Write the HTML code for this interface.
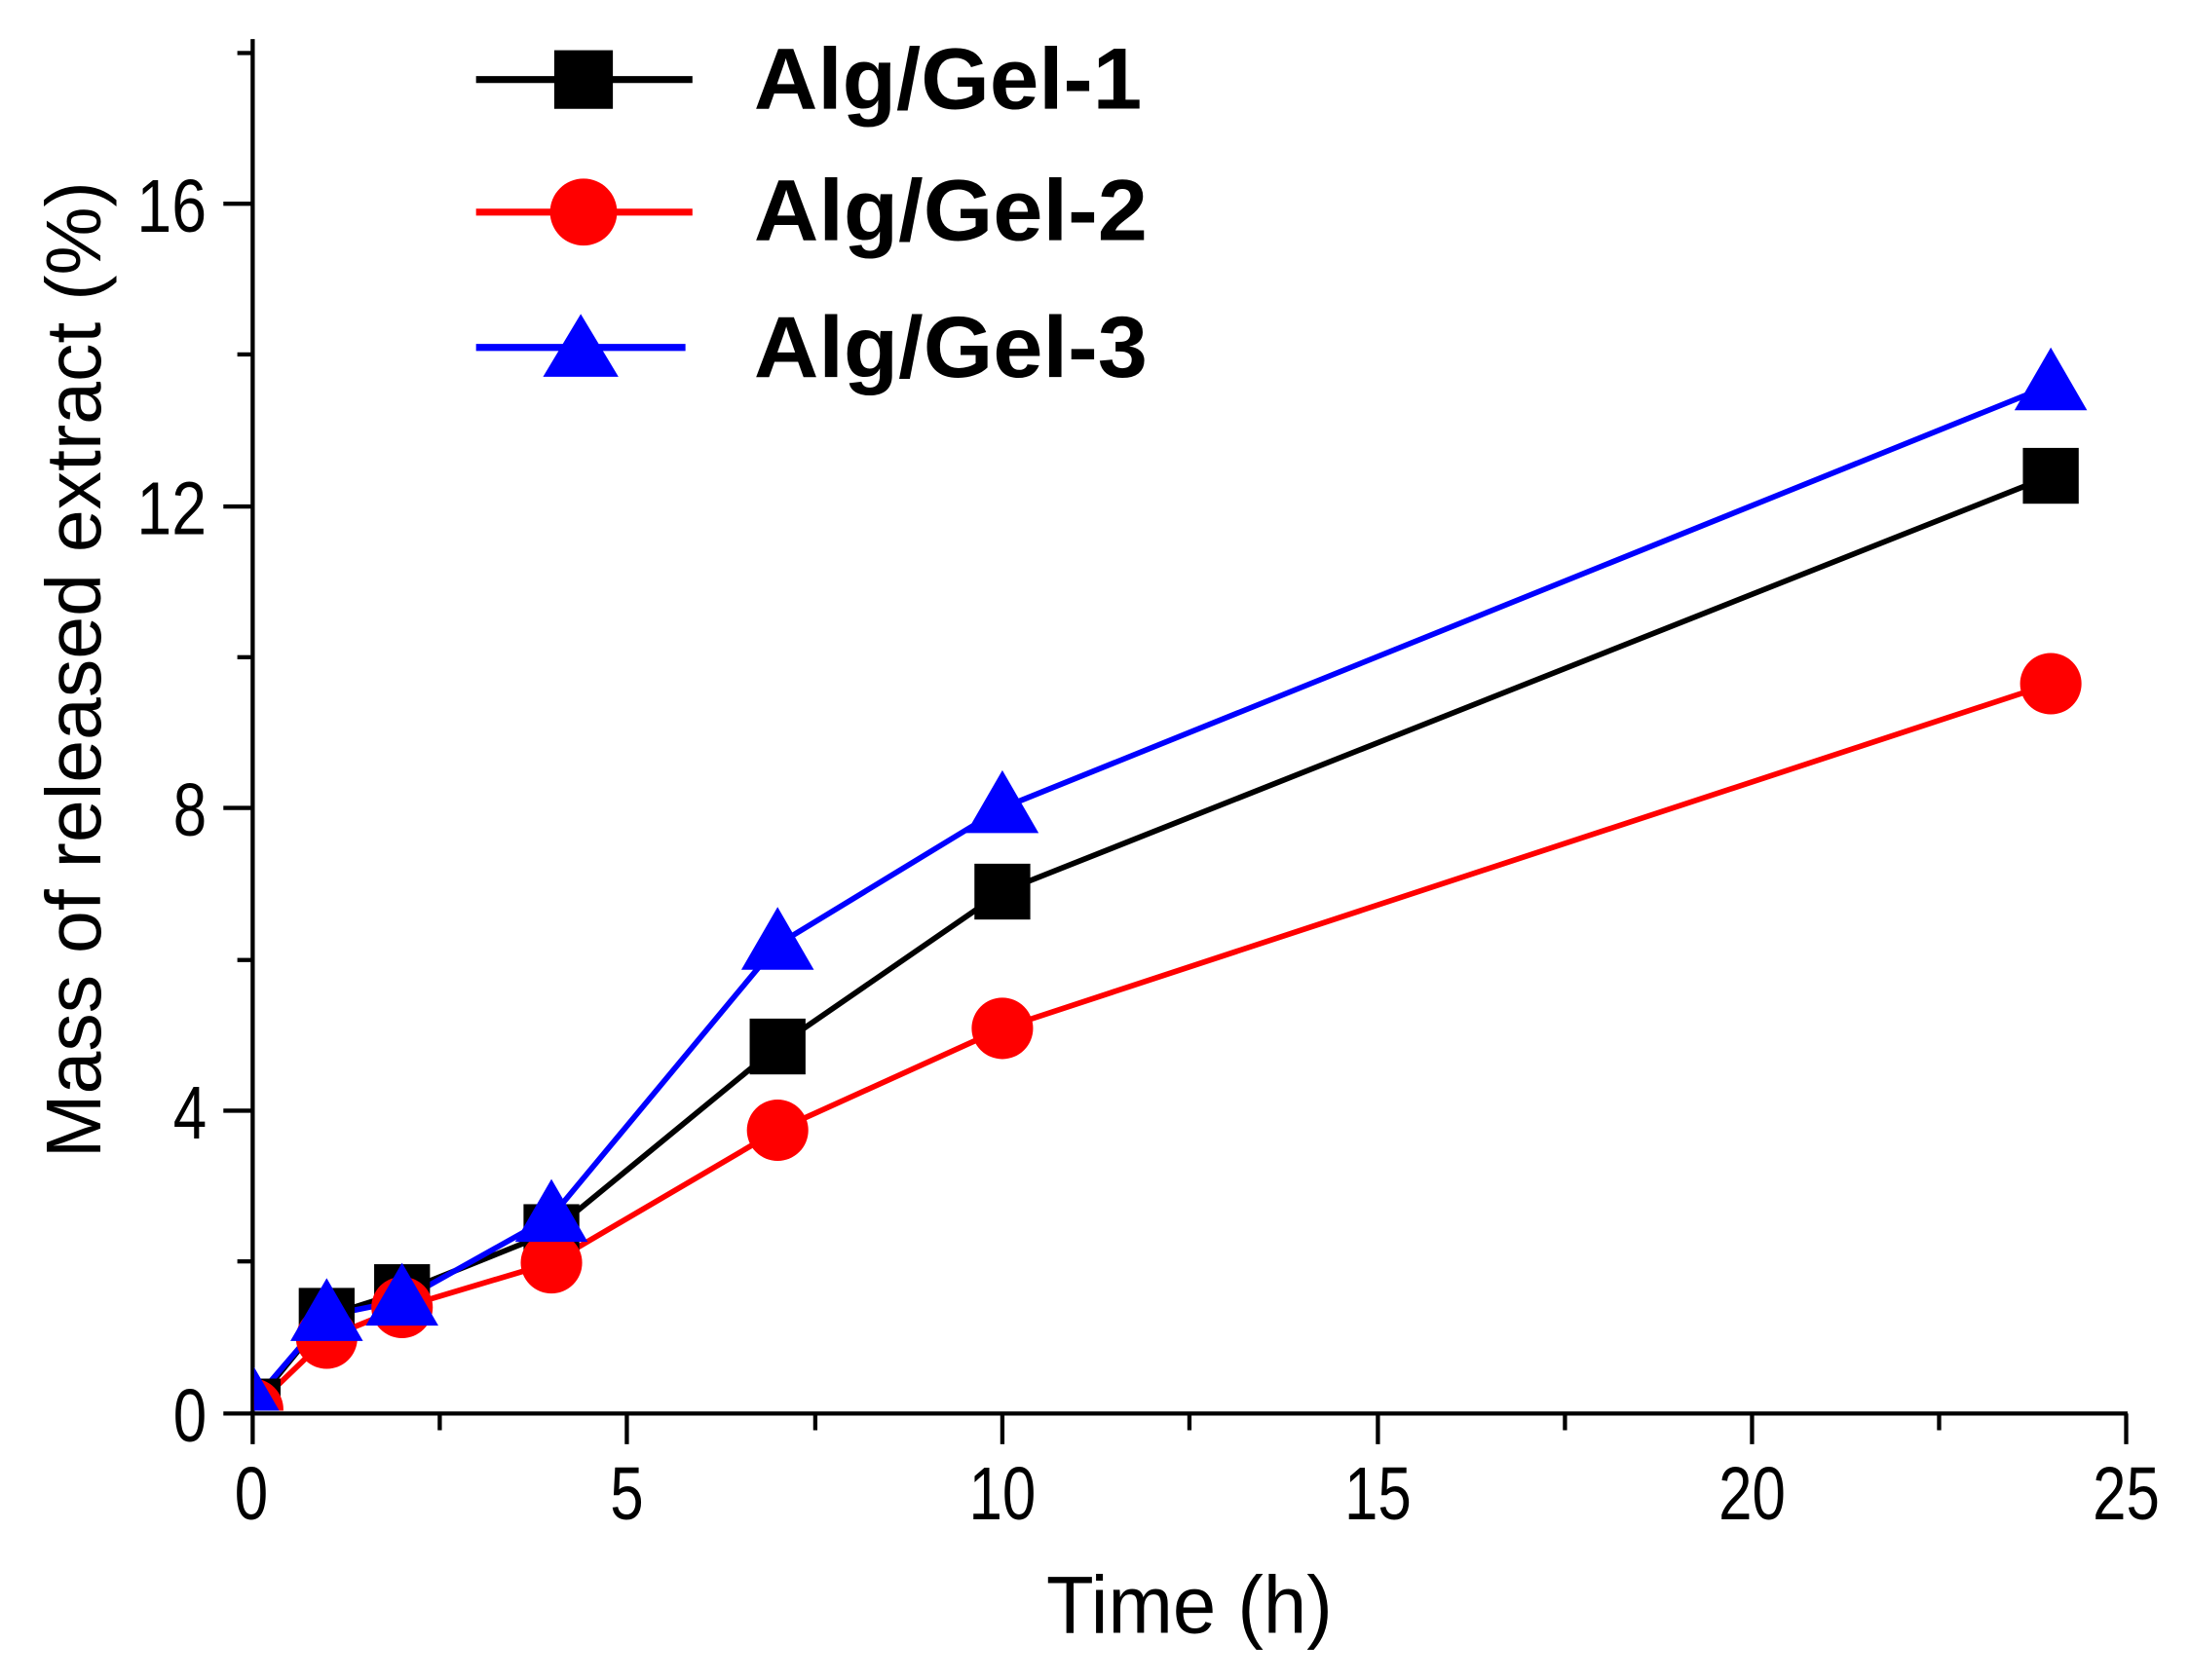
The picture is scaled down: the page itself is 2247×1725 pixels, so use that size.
<!DOCTYPE html>
<html><head><meta charset="utf-8"><style>html,body{margin:0;padding:0;background:#fff}svg{display:block}</style></head>
<body>
<svg width="2247" height="1725" viewBox="0 0 1568 1204" preserveAspectRatio="none" xmlns="http://www.w3.org/2000/svg" font-family="Liberation Sans, Arial, sans-serif">
<defs><clipPath id="c"><rect x="182" y="20" width="1380" height="991"/></clipPath></defs>
<rect width="1568" height="1204" fill="#fff"/>
<g stroke="#000" stroke-width="3" fill="none">
<line x1="181" y1="28" x2="181" y2="1014"/>
<line x1="179" y1="1013" x2="1524" y2="1013"/>
<line x1="160" y1="1013" x2="181" y2="1013"/>
<line x1="160" y1="796" x2="181" y2="796"/>
<line x1="160" y1="579" x2="181" y2="579"/>
<line x1="160" y1="363" x2="181" y2="363"/>
<line x1="160" y1="146" x2="181" y2="146"/>
<line x1="170" y1="904" x2="181" y2="904"/>
<line x1="170" y1="688" x2="181" y2="688"/>
<line x1="170" y1="471" x2="181" y2="471"/>
<line x1="170" y1="254" x2="181" y2="254"/>
<line x1="170" y1="38" x2="181" y2="38"/>
<line x1="181" y1="1013" x2="181" y2="1035"/>
<line x1="449" y1="1013" x2="449" y2="1035"/>
<line x1="718" y1="1013" x2="718" y2="1035"/>
<line x1="987" y1="1013" x2="987" y2="1035"/>
<line x1="1255" y1="1013" x2="1255" y2="1035"/>
<line x1="1523" y1="1013" x2="1523" y2="1035"/>
<line x1="315" y1="1013" x2="315" y2="1025"/>
<line x1="584" y1="1013" x2="584" y2="1025"/>
<line x1="852" y1="1013" x2="852" y2="1025"/>
<line x1="1121" y1="1013" x2="1121" y2="1025"/>
<line x1="1389" y1="1013" x2="1389" y2="1025"/>
</g>
<g font-size="54" fill="#000" text-anchor="end">
<text x="148" y="1033" textLength="24" lengthAdjust="spacingAndGlyphs">0</text>
<text x="148" y="816" textLength="24" lengthAdjust="spacingAndGlyphs">4</text>
<text x="148" y="599" textLength="24" lengthAdjust="spacingAndGlyphs">8</text>
<text x="148" y="383" textLength="50" lengthAdjust="spacingAndGlyphs">12</text>
<text x="148" y="166" textLength="50" lengthAdjust="spacingAndGlyphs">16</text>
</g>
<g font-size="54" fill="#000" text-anchor="middle">
<text x="180" y="1089" textLength="24" lengthAdjust="spacingAndGlyphs">0</text>
<text x="449" y="1089" textLength="24" lengthAdjust="spacingAndGlyphs">5</text>
<text x="718" y="1089" textLength="48" lengthAdjust="spacingAndGlyphs">10</text>
<text x="987" y="1089" textLength="48" lengthAdjust="spacingAndGlyphs">15</text>
<text x="1255" y="1089" textLength="48" lengthAdjust="spacingAndGlyphs">20</text>
<text x="1523" y="1089" textLength="48" lengthAdjust="spacingAndGlyphs">25</text>
</g>
<text x="852" y="1170" font-size="58" text-anchor="middle" textLength="205" lengthAdjust="spacingAndGlyphs">Time (h)</text>
<text transform="translate(72,480) rotate(-90)" font-size="56" text-anchor="middle" textLength="700" lengthAdjust="spacingAndGlyphs">Mass of released extract (%)</text>
<g clip-path="url(#c)" stroke-width="4" fill="none" stroke-linejoin="round">
<polyline stroke="#000" points="181,1008 234,943 288,926 395,883 557,750 718,639 1469,341"/>
<polyline stroke="#f00" points="181,1010 234,959 288,937 395,905 557,810 718,737 1469,490"/>
<polyline stroke="#00f" points="181,1005 234,943 288,932 395,872 557,677 718,579 1469,276"/>
</g>
<g clip-path="url(#c)">
<g fill="#000">
<rect x="161" y="988" width="40" height="40"/>
<rect x="214" y="923" width="40" height="40"/>
<rect x="268" y="906" width="40" height="40"/>
<rect x="375" y="863" width="40" height="40"/>
<rect x="537" y="730" width="40" height="40"/>
<rect x="698" y="619" width="40" height="40"/>
<rect x="1449" y="321" width="40" height="40"/>
</g>
<g fill="#f00">
<circle cx="181" cy="1010" r="22"/>
<circle cx="234" cy="959" r="22"/>
<circle cx="288" cy="937" r="22"/>
<circle cx="395" cy="905" r="22"/>
<circle cx="557" cy="810" r="22"/>
<circle cx="718" cy="737" r="22"/>
<circle cx="1469" cy="490" r="22"/>
</g>
<g fill="#00f">
<polygon points="181,978 207,1023 155,1023"/>
<polygon points="234,916 260,961 208,961"/>
<polygon points="288,905 314,950 262,950"/>
<polygon points="395,845 421,890 369,890"/>
<polygon points="557,650 583,695 531,695"/>
<polygon points="718,552 744,597 692,597"/>
<polygon points="1469,249 1495,294 1443,294"/>
</g>
</g>
<g stroke-width="5" fill="none">
<line x1="341" y1="57" x2="496" y2="57" stroke="#000"/>
<line x1="341" y1="152" x2="496" y2="152" stroke="#f00"/>
<line x1="341" y1="249" x2="491" y2="249" stroke="#00f"/>
</g>
<rect x="397" y="36" width="42" height="42" fill="#000"/>
<circle cx="418" cy="152" r="24" fill="#f00"/>
<polygon points="416,225 443,270 389,270" fill="#00f"/>
<g font-size="62" font-weight="bold" fill="#000">
<text x="540" y="78" textLength="278" lengthAdjust="spacingAndGlyphs">Alg/Gel-1</text>
<text x="540" y="172" textLength="282" lengthAdjust="spacingAndGlyphs">Alg/Gel-2</text>
<text x="540" y="270" textLength="282" lengthAdjust="spacingAndGlyphs">Alg/Gel-3</text>
</g>
</svg>
</body></html>
